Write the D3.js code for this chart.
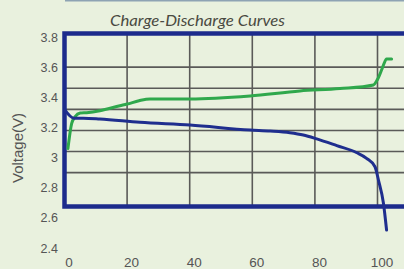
<!DOCTYPE html>
<html>
<head>
<meta charset="utf-8">
<script src="https://cdn.jsdelivr.net/npm/d3@7"></script>
<style>
  html, body { margin: 0; padding: 0; background: #e9f1de; overflow: hidden; }
  svg { display: block; }
</style>
</head>
<body>
<svg id="chart" width="404" height="269"></svg>
<script>
// ---- data ----
const chartTitle = "Charge-Discharge Curves";
const yAxisTitle = "Voltage(V)";

const xTicks = [0, 20, 40, 60, 80, 100];
const yTicks = [2.4, 2.6, 2.8, 3.0, 3.2, 3.4, 3.6, 3.8];
const yTickLabels = ["2.4", "2.6", "2.8", "3", "3.2", "3.4", "3.6", "3.8"];
const gridVolts = [2.9, 3.04, 3.18, 3.32, 3.46, 3.6];
const gridCaps = [20, 40, 60, 80, 100];

// charge curve (green)
const chargeCap  = [1.1, 2.3, 3.4, 5.0, 7.1, 11.3, 17.7, 20.0, 23.8, 27.3, 40.1, 59.3, 75.2, 88.0, 98.7, 99.7, 100.2, 101.3, 101.9, 102.9, 104.5];
const chargeVolt = [3.06, 3.227, 3.271, 3.295, 3.298, 3.311, 3.344, 3.355, 3.377, 3.389, 3.389, 3.409, 3.442, 3.458, 3.482, 3.508, 3.526, 3.581, 3.614, 3.654, 3.654];

// discharge curve (blue)
const dischargeCap  = [0.1, 3.0, 6.0, 11.3, 24.1, 40.1, 59.3, 65.7, 72.0, 76.3, 80.6, 87.0, 93.4, 96.5, 99.2, 100.3, 101.9, 102.9];
const dischargeVolt = [3.316, 3.261, 3.261, 3.256, 3.234, 3.216, 3.183, 3.176, 3.165, 3.150, 3.124, 3.079, 3.032, 2.995, 2.939, 2.851, 2.697, 2.519];

// ---- layout ----
const svg = d3.select("#chart");
const W = 404, H = 269;
const x = d3.scaleLinear().domain([0, 100]).range([64.5, 377.5]);
const y = d3.scaleLinear().domain([2.4, 3.8]).range([248, 37]);
const frameTop = 33.5, frameBottom = 206.5, frameRight = 440;

svg.append("rect").attr("width", W).attr("height", H).attr("fill", "#e9f1de");

// thin line at top
svg.append("line")
  .attr("x1", 65).attr("x2", W).attr("y1", 0.5).attr("y2", 0.5)
  .attr("stroke", "#8ea3b3").attr("stroke-width", 2);

// title
svg.append("text")
  .attr("x", 197.5).attr("y", 26)
  .attr("text-anchor", "middle")
  .attr("font-family", "Lato, 'DejaVu Sans', sans-serif")
  .attr("font-style", "italic")
  .attr("font-size", 16)
  .attr("fill", "#4a4a42")
  .attr("textLength", 175)
  .attr("lengthAdjust", "spacingAndGlyphs")
  .text(chartTitle);

// grid lines
const grid = svg.append("g").attr("stroke", "#5a5a58").attr("stroke-width", 1.6);
grid.selectAll("line.h").data(gridVolts).join("line")
  .attr("class", "h")
  .attr("x1", x(0)).attr("x2", frameRight)
  .attr("y1", d => y(d)).attr("y2", d => y(d));
grid.selectAll("line.v").data(gridCaps).join("line")
  .attr("class", "v")
  .attr("x1", d => x(d)).attr("x2", d => x(d))
  .attr("y1", frameTop).attr("y2", frameBottom);

// frame
svg.append("rect")
  .attr("x", x(0)).attr("y", frameTop)
  .attr("width", frameRight - x(0)).attr("height", frameBottom - frameTop)
  .attr("fill", "none").attr("stroke", "#1c2b8c").attr("stroke-width", 4.5);

// curves
const line = d3.line().x(d => x(d[0])).y(d => y(d[1])).curve(d3.curveMonotoneX);
const chargeData = chargeCap.map((c, i) => [c, chargeVolt[i]]);
const dischargeData = dischargeCap.map((c, i) => [c, dischargeVolt[i]]);

svg.append("path").datum(chargeData)
  .attr("d", line).attr("fill", "none")
  .attr("stroke", "#2fa84c").attr("stroke-width", 3)
  .attr("stroke-linejoin", "round").attr("stroke-linecap", "round");

svg.append("path").datum(dischargeData)
  .attr("d", line).attr("fill", "none")
  .attr("stroke", "#1f2e8e").attr("stroke-width", 3)
  .attr("stroke-linejoin", "round").attr("stroke-linecap", "round");

// y tick labels
const yAxis = d3.axisLeft(y).tickValues(yTicks)
  .tickFormat((d, i) => yTickLabels[i]).tickSize(0).tickPadding(0);
const gy = svg.append("g").attr("transform", "translate(58,0)").call(yAxis);
gy.select(".domain").remove();
gy.selectAll("text")
  .attr("font-family", "'Liberation Sans Narrow', 'Liberation Sans', Arial, sans-serif")
  .attr("font-size", 12.5).attr("fill", "#555");

// x tick labels
const xAxis = d3.axisBottom(x).tickValues(xTicks).tickFormat(d3.format("d"))
  .tickSize(0).tickPadding(0);
const gx = svg.append("g").attr("transform", "translate(4,257)").call(xAxis);
gx.select(".domain").remove();
gx.selectAll("text")
  .attr("font-family", "'Liberation Sans', Arial, sans-serif")
  .attr("font-size", 13.5).attr("fill", "#555");

// y axis title
svg.append("text")
  .attr("transform", "translate(22.5,148) rotate(-90)")
  .attr("text-anchor", "middle")
  .attr("font-family", "'Liberation Sans', Arial, sans-serif")
  .attr("font-size", 15)
  .attr("fill", "#555")
  .text(yAxisTitle);
</script>
</body>
</html>
